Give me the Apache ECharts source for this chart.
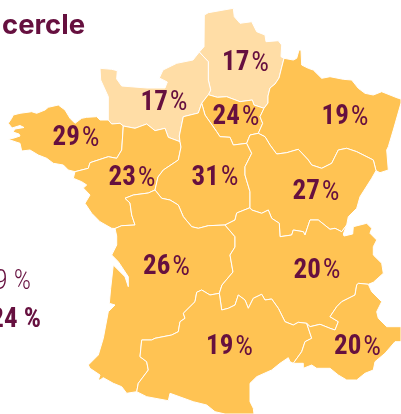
<!DOCTYPE html>
<html><head><meta charset="utf-8">
<style>html,body{margin:0;padding:0;background:#fff}#c{width:401px;height:414px}</style>
<script src="https://cdn.jsdelivr.net/npm/echarts@6/dist/echarts.min.js"></script>
</head><body><div id="c"></div>
<script>
// Values
const regionNames=['Hauts-de-France','Normandie','Île-de-France','Grand Est','Bretagne','Pays de la Loire','Centre-Val de Loire','Bourgogne-Franche-Comté','Nouvelle-Aquitaine','Auvergne-Rhône-Alpes','Occitanie','Provence-Alpes-Côte d\'Azur'];
const regionValues=[17,17,24,19,29,23,31,27,26,20,19,20];
const labelAnchors=[[245.5,63.5],[164,103],[236,117.5],[345,117.5],[76,138.5],[132,178.5],[215,178],[316,192.5],[166.5,267.5],[317,271],[229.5,347.5],[357.5,347.5]];
// Shared region borders (outline geometry of the base map)
const hdfCoast=[[199.3,52],[204,46.7],[204.3,15],[208.3,12.7],[233.3,8.3],[234.3,16.7],[240,23.3],[251.7,21.7],[256.7,31.7],[265,35],[266,41.7],[278.3,40.7],[281.7,45],[281,56.7],[284,58.3]];
const hdfGe=[[284,58.3],[281,70],[279,78],[275,84],[270,88],[268,96],[268,103],[264,108.3]];
const hdfIdf=[[264,108.3],[254,105],[252.3,100],[240,101.7],[226.7,96.7],[217.3,97.3],[208.3,94.7]];
const normHdf=[[208.3,94.7],[210.7,90],[208.3,80],[208.3,61.7],[199.3,52]];
const normCoast=[[199.3,52],[193,60],[176.7,63.3],[163,70],[159.3,78],[167.3,82],[165,88],[147,88],[121.7,86],[116.7,79],[117.3,70.7],[111.7,69.3],[100,68.3],[100.7,80],[108.3,96.7],[108.3,120]];
const normBre=[[108.3,120],[111.7,124],[120,123.3],[123.3,126]];
const normPdl=[[123.3,126],[135,128.3],[146.7,124],[155,130.7],[165,128.3],[168.3,137.3],[180,141.7]];
const normCvl=[[180,141.7],[179.3,136],[183.3,116.7],[198.3,113],[201.7,103.3]];
const normIdf=[[201.7,103.3],[208.3,94.7]];
const idfCvl=[[201.7,103.3],[205,115],[216.7,131.7],[220,136.7],[230,137.3],[233.3,145],[246.7,143.3]];
const idfBfc=[[246.7,143.3],[250,135],[258.3,133.3]];
const idfGe=[[264,108.3],[260,116.7],[262.7,123.3],[258.3,133.3]];
const geCoast=[[284,58.3],[293.3,60],[296.7,58.3],[299,50],[301,50],[301.7,65],[308.3,68.3],[313.3,70],[321.7,78.3],[330,76.7],[343.3,79.3],[351.7,80],[358.3,88.3],[365,93.3],[373.3,95],[381.7,91.7],[398.3,98.3],[401,99],[401,103],[393.3,130],[388.3,146.7],[386.7,150],[388.3,170],[380,172.7],[376,170.7]];
const geBfc=[[258.3,133.3],[265,136.7],[270,145],[276.7,154],[286.7,152.7],[298.3,149.3],[308.3,160],[311.7,165],[321.7,168.3],[331.7,163.3],[338.3,150],[346.7,148.3],[356.7,151.7],[373.3,160],[376,170.7]];
const bfcCoast=[[376,170.7],[371.7,178.3],[360,196.7],[356.7,208.3],[348.3,216.7],[346.7,225]];
const araBfc=[[346.7,225],[341.7,231.7],[335,228.3],[330,229.3],[318.3,220],[310,220],[305,235],[303.3,231.7],[293.3,230],[291.7,235],[280,236.7],[279.3,223.3],[271.7,218.3],[268.3,210],[261.7,213.3],[251.7,210],[250,207.7]];
const cvlBfc=[[250,207.7],[250,191.7],[245,175],[245,166.7],[251.7,153.3],[246.7,143.3]];
const araCvl=[[250,207.7],[236.7,213],[235,220],[225,225]];
const cvlNa=[[155,190],[161.7,198.3],[170,200],[178.3,205],[183.3,216.7],[191.7,226.7],[198.3,228.3],[208.3,225.7],[225,225]];
const pdlCvl=[[180,141.7],[181,147],[178.3,160],[163.3,170],[158,177],[155,190]];
const pdlNa=[[155,190],[148.3,193],[133.3,195],[125,198.3],[130,203],[131.7,215],[135,225],[121.7,225.7],[115,228.5]];
const pdlCoast=[[75,171.7],[73.3,178.3],[81.7,181.7],[86.7,185],[83.3,188],[90,195],[85,203.3],[91.7,213.3],[100,221.7],[111.7,228.3],[115,228.5]];
const brePdl=[[123.3,126],[121.7,150],[116.7,158.3],[108.3,156.7],[90,162.7],[88.3,168.3],[75,171.7]];
const breCoast=[[108.3,120],[100,120],[96.7,116.7],[86.7,117.3],[81.7,118.3],[75,123.3],[70,118.3],[65,110],[58.3,105],[48.3,107.3],[45,110],[36.7,113.3],[31.7,111.7],[20,113.3],[13.3,115],[11.7,118.3],[8.3,123.3],[12,128],[20,125.5],[24,127.5],[15,129],[13,132],[19,134],[20,136],[14,138],[8.3,139.3],[15,141.7],[20,143.3],[21.7,151],[30,150],[38.3,155],[46.7,158.3],[53.3,163.3],[63.3,165],[68.3,170],[75,171.7]];
const araNa=[[225,225],[235,236.7],[235,247],[230,255],[233,272],[222,285],[219.3,293.3]];
const naOcc=[[136.7,391.7],[138.3,383.3],[148.3,370],[146.7,361.7],[140,356.7],[141.7,340],[151.7,340],[155,338.3],[171.7,335],[178.3,331.7],[180,321.7],[185,318.3],[183.3,313.3],[195,301.7],[196.7,292.3],[201.7,290],[210,295],[219.3,293.3]];
const naCoast=[[136.7,391.7],[126.7,393.3],[121.7,386.7],[113.3,383.3],[103.3,377.7],[100,380],[98.3,380],[100,375],[90,368.3],[88.3,365],[98.3,355],[103.3,338.3],[108.3,311.7],[115,305],[109.3,303.3],[110.7,288.3],[113.3,265],[125,276.7],[128.3,286.7],[128.3,276.7],[118.3,261.7],[111.7,255],[116.7,245],[116.7,236],[115,228.5]];
const araCoast=[[346.7,225],[343.3,234],[344,236],[352.7,234],[353.3,226.7],[366.7,223.3],[371.7,228.3],[370,233.3],[376.7,240],[373.3,246.7],[373.3,255],[381.7,263.3],[383.3,273.3],[373.3,282.3],[368.3,284.3]];
const araOcc=[[219.3,293.3],[221.7,310],[228.3,308.3],[235,305],[238.3,295],[245,300],[248.3,308.3],[253.3,298.3],[261.7,294.3],[265,300],[271.7,299],[278.3,308.3],[285,321.7],[293.3,325],[298.3,322.3],[306.7,323.3]];
const araPaca=[[306.7,323.3],[310,326.7],[320,324.3],[330,328.3],[335,330],[338.3,321.7],[330,316.7],[336.7,306.7],[341.7,301.7],[355,295],[356.7,285],[358.3,283.3],[368.3,284.3]];
const occPaca=[[293.3,363.3],[301.7,351.7],[305,341.7],[311.7,338.3],[306.7,323.3]];
const occCoast=[[293.3,363.3],[290,361.7],[288.3,357.7],[280,363.3],[271.7,370],[256.7,376.7],[250,383.3],[250,401.7],[253.3,408.3],[254,414],[225,414],[215,411.7],[206.7,405],[193.3,401.7],[170,393.3],[168.3,400.7],[146.7,396.7],[136.7,391.7]];
const pacaCoast=[[368.3,284.3],[371.7,291.7],[381.7,301.7],[376.7,311.7],[378.3,318.3],[386.7,326.7],[401,326.7],[401,341.7],[395,341.7],[385,353.3],[375,361.7],[373.3,370],[365,373.3],[356.7,380],[346.7,380],[338.3,375],[330,368.3],[316.7,368.3],[311.7,365],[303.3,368.3],[303.3,363.3],[293.3,363.3]];

const R=a=>a.slice().reverse();
const rings=[
 [hdfCoast,hdfGe,hdfIdf,normHdf],
 [normCoast,normBre,normPdl,normCvl,normIdf,normHdf],
 [R(normIdf),idfCvl,idfBfc,R(idfGe),hdfIdf],
 [geCoast,R(geBfc),R(idfGe),R(hdfGe)],
 [breCoast,R(brePdl),R(normBre)],
 [normPdl,pdlCvl,pdlNa,R(pdlCoast),R(brePdl)],
 [normCvl,idfCvl,R(cvlBfc),araCvl,R(cvlNa),R(pdlCvl)],
 [geBfc,bfcCoast,araBfc,cvlBfc,idfBfc],
 [cvlNa,araNa,R(naOcc),naCoast,R(pdlNa)],
 [R(araCvl),R(araBfc),araCoast,R(araPaca),R(araOcc),R(araNa)],
 [naOcc,araOcc,R(occPaca),occCoast],
 [araPaca,pacaCoast,occPaca]
];
const geo={type:'FeatureCollection',features:regionNames.map((name,i)=>({
  type:'Feature',properties:{name,cp:labelAnchors[i]},
  geometry:{type:'Polygon',coordinates:[rings[i].flat()]}
}))};
echarts.registerMap('fr',geo);

const INK='#66103f', LIGHT='#ffdda6', DARK='#ffc353', THRESHOLD=17;
const chart=echarts.init(document.getElementById('c'),null,{renderer:'canvas'});
const NUM='"Roboto Condensed",sans-serif';
chart.setOption({
  animation:false,
  backgroundColor:'#fff',
  series:[{
    type:'map',map:'fr',silent:true,selectedMode:false,roam:false,
    projection:{project:p=>[p[0],p[1]],unproject:p=>[p[0],p[1]]},
    left:0,top:0,width:401,height:414,
    boundingCoords:[[0,0],[401,414]],
    itemStyle:{areaColor:DARK,borderColor:'#fff',borderWidth:1},
    label:{show:true,formatter:p=>'{n|'+p.value+'}{g| }{p|%}',
      rich:{
        n:{fontFamily:NUM,fontWeight:'bold',fontSize:27,color:INK},
        g:{fontSize:7,color:INK},
        p:{fontFamily:NUM,fontWeight:'normal',fontSize:28,color:INK}
      }},
    data:regionNames.map((name,i)=>({name,value:regionValues[i],
      itemStyle:{areaColor:regionValues[i]<=THRESHOLD?LIGHT:DARK}}))
  }],
  graphic:[
    {type:'text',left:2,top:12,style:{text:'cercle',fontFamily:'"Inter",sans-serif',fontWeight:'bold',fontSize:27.5,fill:INK}},
    {type:'text',right:370,top:269,style:{text:'19 %',fontFamily:NUM,fontWeight:300,fontSize:27,fill:INK}},
    {type:'text',right:360,top:307,style:{text:'24 %',fontFamily:NUM,fontWeight:'bold',fontSize:27,fill:INK}}
  ]
});
</script></body></html>
